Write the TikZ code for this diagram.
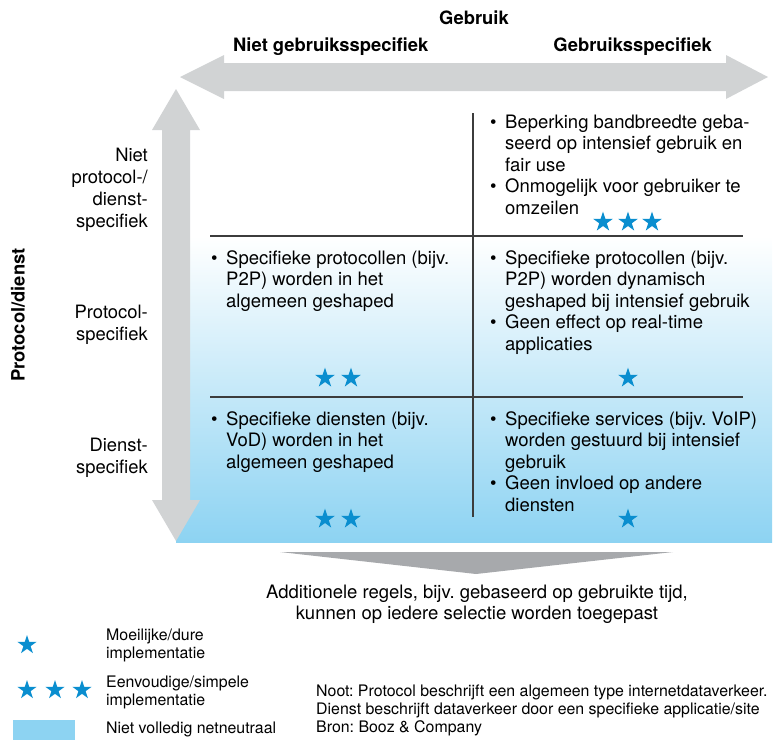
\documentclass[tikz,border=0pt]{standalone}
\usepackage{fontspec}
\setmainfont{TeX Gyre Heros}
\usetikzlibrary{shapes.geometric}
\definecolor{arrowgray}{RGB}{209,211,212}
\definecolor{chevgray}{RGB}{167,169,172}
\definecolor{netblue}{RGB}{141,211,242}
\definecolor{starblue}{RGB}{10,142,207}
\definecolor{gridgray}{RGB}{60,60,60}
\frenchspacing
\newcommand{\bul}{\makebox[15pt][l]{•}}
\newcommand{\ind}{\hspace*{15pt}}
\tikzset{x=1pt, y=-1pt,
    cell/.style={
        anchor=base west,
        align=left,
        inner sep=0pt,
        font=\fontsize{18.5}{21.5}\selectfont},
    rowlabel/.style={
        anchor=base east,
        align=right,
        inner sep=0pt,
        font=\fontsize{18.4}{22}\selectfont},
    header/.style={
        inner sep=0pt,
        font=\bfseries\fontsize{18.4}{22}\selectfont},
    small/.style={
        anchor=base west,
        align=left,
        inner sep=0pt,
        font=\fontsize{15.9}{18.4}\selectfont},
    bluestar/.style={
        star, star points=5, star point ratio=2.618,
        fill=starblue, inner sep=0pt,
        minimum size=21pt},
    grid/.style={
        draw=gridgray,
        line width=1.1pt}}

\begin{document}
\begin{tikzpicture}
        \useasboundingbox (0,0) rectangle (779,740);
        \shade[top color=white, bottom color=netblue] (176,236) rectangle (772,542);

        % axes
        \fill[arrowgray] (180,77) -- (224,55) -- (224,63) -- (726,63) -- (726,55) -- (768,77)
            -- (726,99) -- (726,91) -- (224,91) -- (224,99) -- cycle;
        \fill[arrowgray] (176,89) -- (200,130) -- (190,130) -- (190,500) -- (200,500) -- (176,541)
            -- (152,500) -- (162,500) -- (162,130) -- (152,130) -- cycle;
        \fill[chevgray] (280,552) -- (673,552) -- (476,574) -- cycle;

        \draw[grid] (473,113) -- (473,517);
        \draw[grid] (210,236) -- (743,236);
        \draw[grid] (210,397) -- (743,397);

        \node[header, anchor=base] (gebruik) at (474,24) {Gebruik};
        \node[header, anchor=base west] (nietgebr) at (233,51) {Niet gebruiksspecifiek};
        \node[header, anchor=base east] (gebr) at (712,51) {Gebruiksspecifiek};
        \node[header, rotate=90] (protdienst) at (18,315) {Protocol/dienst};

        % base = last line
        \node[rowlabel] (rij1) at (148,227) {Niet\\protocol-/\\dienst-\\specifiek};
        \node[rowlabel] (rij2) at (148,340) {Protocol-\\specifiek};
        \node[rowlabel] (rij3) at (148,473) {Dienst-\\specifiek};

        \node[cell] (c12) at (490,214) {\bul Beperking bandbreedte geba-\\\ind seerd op intensief gebruik en\\\ind fair use\\\bul Onmogelijk voor gebruiker te\\\ind omzeilen};
        \node[cell] (c21) at (211,307) {\bul Specifieke protocollen (bijv.\\\ind P2P) worden in het\\\ind algemeen geshaped};
        \node[cell] (c22) at (490,350) {\bul Specifieke protocollen (bijv.\\\ind P2P) worden dynamisch\\\ind geshaped bij intensief gebruik\\\bul Geen effect op real-time\\\ind applicaties};
        \node[cell] (c31) at (211,468) {\bul Specifieke diensten (bijv.\\\ind VoD) worden in het\\\ind algemeen geshaped};
        \node[cell] (c32) at (490,511) {\bul Specifieke services (bijv. VoIP)\\\ind worden gestuurd bij intensief\\\ind gebruik\\\bul Geen invloed op andere\\\ind diensten};

        \foreach \x in {603,628,652} \node[bluestar] (s12-\x) at (\x,222) {};
        \foreach \x in {325,351} {
            \node[bluestar] (s21-\x) at (\x,378) {};
            \node[bluestar] (s31-\x) at (\x,519) {};}
        \node[bluestar] (s22) at (628,378) {};
        \node[bluestar] (s32) at (628,519) {};

        \node[cell, anchor=base, align=center] (extra) at (477,619.5) {Additionele regels, bijv. gebaseerd op gebruikte tijd,\\kunnen op iedere selectie worden toegepast};

        % legend
        \node[bluestar, minimum size=20pt] (l1) at (27,645) {};
        \foreach \x in {27,55,82} \node[bluestar, minimum size=20pt] (l3-\x) at (\x,690) {};
        \fill[netblue] (13,720) rectangle (75,740);
        \node[small] (moeilijk) at (106,658.4) {Moeilijke/dure\\implementatie};
        \node[small] (eenvoudig) at (106,705.4) {Eenvoudige/simpele\\implementatie};
        \node[small] (nietneutraal) at (106,733.5) {Niet volledig netneutraal};
        \node[small] (noot) at (316,732.8) {Noot: Protocol beschrijft een algemeen type internetdataverkeer.\\Dienst beschrijft dataverkeer door een specifieke applicatie/site\\Bron: Booz \& Company};
    \end{tikzpicture}
\end{document}
